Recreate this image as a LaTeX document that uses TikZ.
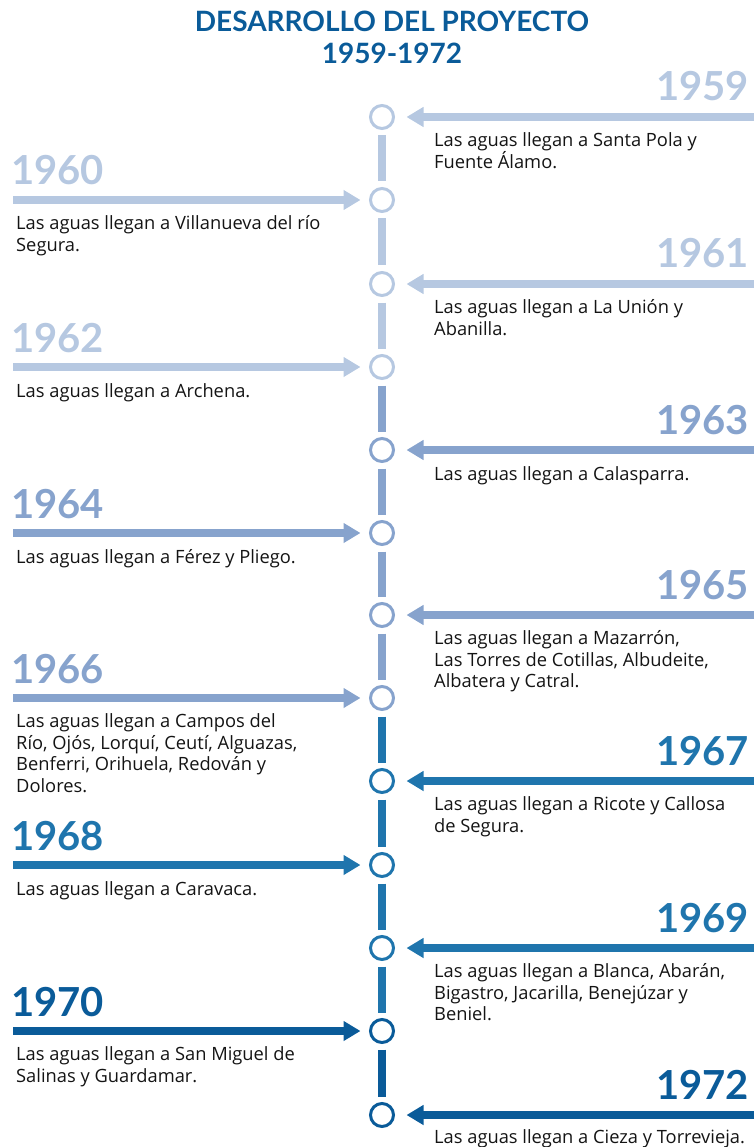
\documentclass[tikz,border=0pt]{standalone}
\usepackage{fontspec}
\setmainfont{Lato}
\newfontfamily\cuerpo{Open Sans}
\usetikzlibrary{arrows.meta}
\definecolor{tramoA}{HTML}{B6C8E1}
\definecolor{tramoB}{HTML}{87A3CD}
\definecolor{tramoC}{HTML}{1F75AD}
\definecolor{tramoD}{HTML}{0A5B99}
\definecolor{textogris}{HTML}{141414}
\begin{document}
\begin{tikzpicture}[x=1pt,y=-1pt]
\tikzstyle{every node}+=[inner sep=0pt]
\tikzstyle{hito}=[circle, draw, line width=3pt, minimum size=23pt]
\tikzstyle{flechader}=[line width=8pt, -{Triangle[length=17pt,width=19pt]}, shorten >=11.5pt]
\tikzstyle{flechaizq}=[line width=8pt, -{Triangle[length=17pt,width=19pt]}, shorten >=8.5pt]
\tikzstyle{tramo}=[line width=8pt, shorten <=5.5pt, shorten >=5.5pt]
\tikzstyle{anio}=[font=\bfseries\fontsize{40}{40}\selectfont]
\tikzstyle{texto}=[font=\cuerpo\fontsize{18.3}{21.5}\selectfont, text=textogris, align=left, anchor=north west, execute at begin node=\strut]
\useasboundingbox (0,0) rectangle (754,1147);
\node [font=\bfseries\fontsize{28}{32}\selectfont, text=tramoD, align=center, anchor=base] (titulo) at (392,64) {DESARROLLO DEL PROYECTO\\1959-1972};
\node [hito, tramoA] (h1959) at (382,117) {};
\node [hito, tramoA] (h1960) at (382,200) {};
\node [hito, tramoA] (h1961) at (382,284) {};
\node [hito, tramoA] (h1962) at (382,367) {};
\node [hito, tramoB] (h1963) at (382,450) {};
\node [hito, tramoB] (h1964) at (382,533) {};
\node [hito, tramoB] (h1965) at (382,615) {};
\node [hito, tramoB] (h1966) at (382,698) {};
\node [hito, tramoC] (h1967) at (382,781) {};
\node [hito, tramoC] (h1968) at (382,865) {};
\node [hito, tramoC] (h1969) at (382,948) {};
\node [hito, tramoD] (h1970) at (382,1031) {};
\node [hito, tramoD] (h1972) at (382,1115) {};
\draw [tramo, tramoA] (h1959) -- (h1960);
\draw [tramo, tramoA] (h1960) -- (h1961);
\draw [tramo, tramoA] (h1961) -- (h1962);
\draw [tramo, tramoB] (h1962) -- (h1963);
\draw [tramo, tramoB] (h1963) -- (h1964);
\draw [tramo, tramoB] (h1964) -- (h1965);
\draw [tramo, tramoB] (h1965) -- (h1966);
\draw [tramo, tramoC] (h1966) -- (h1967);
\draw [tramo, tramoC] (h1967) -- (h1968);
\draw [tramo, tramoC] (h1968) -- (h1969);
\draw [tramo, tramoC] (h1969) -- (h1970);
\draw [tramo, tramoD] (h1970) -- (h1972);
\coordinate (o1959) at (754,117);
\coordinate (o1960) at (13,200);
\coordinate (o1961) at (754,284);
\coordinate (o1962) at (13,367);
\coordinate (o1963) at (754,450);
\coordinate (o1964) at (13,533);
\coordinate (o1965) at (754,615);
\coordinate (o1966) at (13,698);
\coordinate (o1967) at (754,781);
\coordinate (o1968) at (13,865);
\coordinate (o1969) at (754,948);
\coordinate (o1970) at (13,1031);
\coordinate (o1972) at (754,1115);
\draw [flechader, tramoA] (o1959) -- (h1959);
\draw [flechaizq, tramoA] (o1960) -- (h1960);
\draw [flechader, tramoA] (o1961) -- (h1961);
\draw [flechaizq, tramoA] (o1962) -- (h1962);
\draw [flechader, tramoB] (o1963) -- (h1963);
\draw [flechaizq, tramoB] (o1964) -- (h1964);
\draw [flechader, tramoB] (o1965) -- (h1965);
\draw [flechaizq, tramoB] (o1966) -- (h1966);
\draw [flechader, tramoC] (o1967) -- (h1967);
\draw [flechaizq, tramoC] (o1968) -- (h1968);
\draw [flechader, tramoC] (o1969) -- (h1969);
\draw [flechaizq, tramoD] (o1970) -- (h1970);
\draw [flechader, tramoD] (o1972) -- (h1972);
\node [anio, text=tramoA, anchor=base east] (a1959) at (749,101) {1959};
\node [anio, text=tramoA, anchor=base west] (a1960) at (11,185) {1960};
\node [anio, text=tramoA, anchor=base east] (a1961) at (749,268) {1961};
\node [anio, text=tramoA, anchor=base west] (a1962) at (11,352) {1962};
\node [anio, text=tramoB, anchor=base east] (a1963) at (749,434) {1963};
\node [anio, text=tramoB, anchor=base west] (a1964) at (11,518) {1964};
\node [anio, text=tramoB, anchor=base east] (a1965) at (749,599) {1965};
\node [anio, text=tramoB, anchor=base west] (a1966) at (11,683) {1966};
\node [anio, text=tramoC, anchor=base east] (a1967) at (749,765) {1967};
\node [anio, text=tramoC, anchor=base west] (a1968) at (11,850) {1968};
\node [anio, text=tramoC, anchor=base east] (a1969) at (749,932) {1969};
\node [anio, text=tramoD, anchor=base west] (a1970) at (11,1016) {1970};
\node [anio, text=tramoD, anchor=base east] (a1972) at (749,1099) {1972};
\node [texto] (t1959) at (434,132.5) {Las aguas llegan a Santa Pola y\\Fuente Álamo.};
\node [texto] (t1960) at (16,215.5) {Las aguas llegan a Villanueva del río\\Segura.};
\node [texto] (t1961) at (434,299.5) {Las aguas llegan a La Unión y\\Abanilla.};
\node [texto] (t1962) at (16,382.5) {Las aguas llegan a Archena.};
\node [texto] (t1963) at (434,465.5) {Las aguas llegan a Calasparra.};
\node [texto] (t1964) at (16,548.5) {Las aguas llegan a Férez y Pliego.};
\node [texto] (t1965) at (434,630.5) {Las aguas llegan a Mazarrón,\\Las Torres de Cotillas, Albudeite,\\Albatera y Catral.};
\node [texto] (t1966) at (16,713.5) {Las aguas llegan a Campos del\\Río, Ojós, Lorquí, Ceutí, Alguazas,\\Benferri, Orihuela, Redován y\\Dolores.};
\node [texto] (t1967) at (434,796.5) {Las aguas llegan a Ricote y Callosa\\de Segura.};
\node [texto] (t1968) at (16,880.5) {Las aguas llegan a Caravaca.};
\node [texto] (t1969) at (434,963.5) {Las aguas llegan a Blanca, Abarán,\\Bigastro, Jacarilla, Benejúzar y\\Beniel.};
\node [texto] (t1970) at (16,1046.5) {Las aguas llegan a San Miguel de\\Salinas y Guardamar.};
\node [texto] (t1972) at (434,1128.5) {Las aguas llegan a Cieza y Torrevieja.};
\end{tikzpicture}
\end{document}
